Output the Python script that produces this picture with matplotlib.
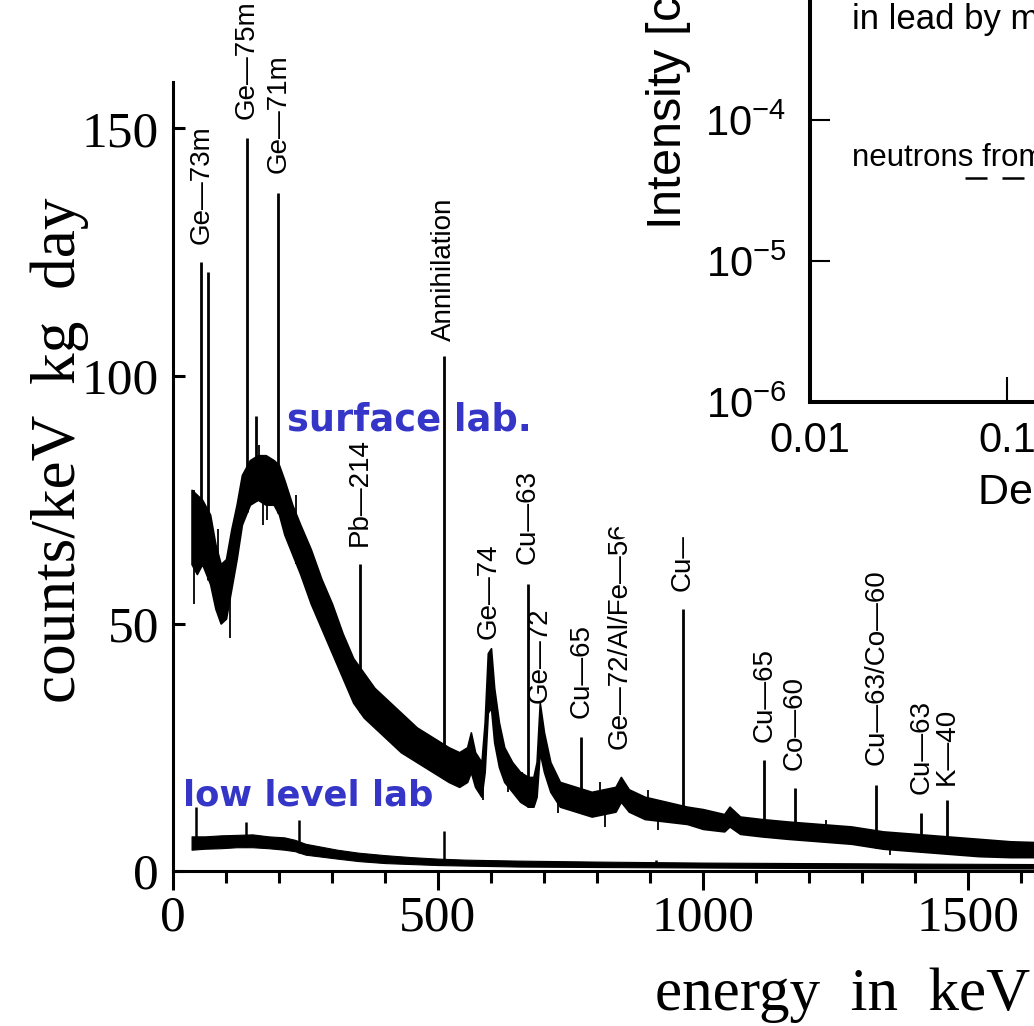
import numpy as np
import matplotlib
matplotlib.use("Agg")
from matplotlib import pyplot as plt
from matplotlib.patches import Rectangle
from matplotlib.ticker import NullLocator, MultipleLocator

# surface lab spectrum: continuum band (keV, counts/keV kg day)
surf_e = [35, 45, 55, 70, 80, 90, 100, 110, 120, 130, 145, 160, 175, 190, 200, 210,
          225, 240, 260, 280, 300, 320, 340, 360, 380, 400, 430, 460, 490, 505, 520,
          540, 555, 562, 570, 582, 588, 594, 600, 606, 615, 625, 640, 655, 670, 680,
          686, 692, 700, 712, 730, 760, 790, 835, 845, 860, 890, 930, 970, 1000,
          1040, 1050, 1070, 1110, 1160, 1220, 1280, 1340, 1400, 1460, 1520, 1580, 1640]
surf_lo = [62, 60, 62, 58, 53, 50, 51, 57, 63, 70, 74, 75, 74, 74, 72, 68,
           64, 60, 54, 49, 44, 39, 34, 31, 29, 27, 24, 22, 20, 19, 18,
           17, 18, 20, 17, 15, 20, 32, 33, 26, 21, 18, 16, 14, 13, 13,
           15, 24, 20, 16, 13, 12, 11, 12, 14, 12, 10.5, 10, 9.5, 8.5,
           8, 9, 7.5, 7, 6.5, 6, 5.5, 4.5, 4, 3.5, 3, 2.8, 2.8]
surf_hi = [77, 76, 75, 72, 66, 62, 63, 69, 74, 80, 83, 84, 84, 83, 82, 79,
           74, 70, 65, 59, 54, 48, 43, 40, 37, 35, 32, 29, 27, 26, 25,
           24, 25, 28, 24, 22, 30, 44, 45, 37, 30, 25, 22, 20, 19, 19,
           22, 34, 28, 22, 18, 17, 16, 17, 19, 16.5, 15, 14, 13, 12.5,
           11.5, 13, 11, 10.5, 10, 9.5, 9, 8, 7.5, 7, 6.5, 6, 5.8]

# thin noise spikes poking out of the surface band: energy, from, to
spike_e = [40, 85, 92, 108, 163, 170, 178, 232, 268, 585, 632, 640, 658, 679, 727,
           806, 815, 896, 915, 1233, 1353]
spike_lo = [54, 61, 53, 47, 78, 70, 71, 62, 55, 14.3, 16, 17, 14.3, 15, 11.7,
            15, 8.9, 12, 8.3, 8, 3.2]
spike_hi = [77, 69, 62, 60, 86, 80, 82, 76, 62, 20, 22, 21, 20, 19, 15.7,
            18, 14, 16.4, 12.5, 10.3, 6]

# sharp lines of the surface spectrum
line_e = [53.4, 66.7, 139.7, 157, 198.4, 351.9, 511, 669.6, 770.6, 962.1,
          1115.5, 1173.2, 1327, 1412, 1460.8]
line_top = [123, 121, 148, 92, 137, 62, 104, 58, 27, 53, 22.4, 16.8, 17.4, 11.7, 14.3]

# line labels: energy, text, height of the marked peak
lab_e = [53.4, 139.7, 198.4, 351.9, 511, 596, 669.6, 691, 770.6, 843, 962.1,
         1115.5, 1173.2, 1327, 1412, 1460.8]
lab_txt = ["Ge\u201473m", "Ge\u201475m", "Ge\u201471m", "Pb\u2014214", "Annihilation",
           "Ge\u201474", "Cu\u201463", "Ge\u201472", "Cu\u201465", "Ge\u201472/Al/Fe\u201456",
           "Cu\u201463", "Cu\u201465", "Co\u201460", "Cu\u201463/Co\u201460", "Cu\u201463",
           "K\u201440"]
lab_top = [123, 148, 137, 62, 104, 45, 58, 33, 27, 21, 53, 22.4, 16.8, 17.4, 11.7, 14.3]
lab_gap = [13, 14, 14, 13, 11, 7, 14, 3, 14, 13, 13, 13, 13, 14, 14, 11]

# low level lab spectrum
low_e = [35, 60, 90, 120, 150, 180, 210, 230, 250, 280, 310, 350, 400, 450, 500,
         550, 650, 800, 1000, 1200, 1400, 1640]
low_lo = [4.3, 4.5, 4.6, 4.8, 4.8, 4.6, 4.3, 4.0, 3.3, 2.9, 2.5, 2.0, 1.6, 1.4, 1.2,
          1.1, 0.9, 0.8, 0.7, 0.6, 0.5, 0.5]
low_hi = [7.0, 7.0, 7.2, 7.3, 7.4, 7.0, 6.8, 6.3, 5.5, 4.9, 4.3, 3.7, 3.2, 2.8, 2.5,
          2.3, 2.1, 1.9, 1.7, 1.6, 1.5, 1.4]
low_line_e = [43, 138, 238.6, 511, 911]
low_line_top = [13, 10, 10.3, 8, 2.3]

# inset (intensity vs depth)
dash_depth = [0.061, 0.2]
dash_int = [3.9e-5, 3.9e-5]

W, H = 1034, 1026
fig = plt.figure(figsize=(W / 100, H / 100), dpi=100)

# main axes: 0 keV at x=173 px, 0.53 px/keV; 0 counts at y=871 px, 4.95 px/count
ax = fig.add_axes([173 / W, (H - 871) / H, (W - 173) / W, 789 / H])
ax.set_xlim(0, (W - 173) / 0.53)
ax.set_ylim(0, 789 / 4.95)

ax.fill_between(surf_e, surf_lo, surf_hi, color="black", lw=1.2)
ax.vlines(spike_e, spike_lo, spike_hi, color="black", lw=1.3)
base = np.interp(line_e, surf_e, surf_lo)
ax.vlines(line_e, base, line_top, color="black", lw=2)

ax.fill_between(low_e, low_lo, low_hi, color="black", lw=0.8)
lbase = np.interp(low_line_e, low_e, low_lo)
ax.vlines(low_line_e, lbase, low_line_top, color="black", lw=1.8)

for e, t, top, gap in zip(lab_e, lab_txt, lab_top, lab_gap):
    ax.annotate(t, xy=(e, top), xytext=(0, gap), textcoords="offset points",
                rotation=90, ha="center", va="bottom", fontsize=20,
                family=["Liberation Sans", "DejaVu Sans"])

ax.spines["top"].set_visible(False)
ax.spines["right"].set_visible(False)
ax.spines["left"].set_linewidth(2.2)
ax.spines["bottom"].set_linewidth(2.2)
ax.set_xticks([0, 500, 1000, 1500])
ax.xaxis.set_minor_locator(MultipleLocator(100))
ax.set_yticks([0, 50, 100, 150])
ax.tick_params(axis="x", which="major", direction="out", length=13.5, width=2.2, pad=4)
ax.tick_params(axis="x", which="minor", direction="out", length=8.5, width=2.2)
ax.tick_params(axis="y", direction="in", length=8.5, width=2.2, pad=10)
for lab in ax.get_xticklabels() + ax.get_yticklabels():
    lab.set_fontfamily(["Liberation Serif", "DejaVu Serif"])
    lab.set_fontsize(37)

serif = ["Liberation Serif", "DejaVu Serif"]
fig.text(60 / W, (H - 450) / H, "counts/keV  kg  day", rotation=90, ha="center",
         va="center", fontsize=45.5, family=serif)
fig.text(655 / W, (H - 995) / H, "energy  in  keV", ha="left", va="center",
         fontsize=44, family=serif)

blue = "#3535c8"
fig.text(287 / W, (H - 420) / H, "surface lab.", color=blue, fontsize=26.5,
         fontweight="bold", va="center", ha="left")
fig.text(183 / W, (H - 795) / H, "low level lab", color=blue, fontsize=25.5,
         fontweight="bold", va="center", ha="left")

# white panel of the inset
fig.add_artist(Rectangle((619 / W, (H - 536) / H), 1, 1, transform=fig.transFigure,
                         color="white", zorder=2))
fig.add_artist(Rectangle((600 / W, (H - 518) / H), 1, 1, transform=fig.transFigure,
                         color="white", zorder=2))

ins = fig.add_axes([810 / W, (H - 402) / H, (W - 810) / W, 402 / H])
ins.set_zorder(3)
ins.patch.set_alpha(0)
ins.set_xscale("log")
ins.set_yscale("log")
ins.set_xlim(0.01, 0.01 * 10 ** ((W - 810) / 197))
ins.set_ylim(1e-6, 10 ** (-6 + 402 / 141))
ins.plot(dash_depth, dash_int, color="black", lw=1.8, dashes=(8.8, 6))
ins.spines["top"].set_visible(False)
ins.spines["right"].set_visible(False)
ins.spines["left"].set_linewidth(2.9)
ins.spines["bottom"].set_linewidth(2.9)
ins.xaxis.set_minor_locator(NullLocator())
ins.yaxis.set_minor_locator(NullLocator())
ins.set_xticks([0.01, 0.1])
ins.set_xticklabels(["0.01", "0.1"])
ins.set_yticks([1e-6, 1e-5, 1e-4])
ins.set_yticklabels([r"$\mathregular{10^{-6}}$", r"$\mathregular{10^{-5}}$",
                     r"$\mathregular{10^{-4}}$"])
ins.tick_params(axis="y", direction="in", length=14.4, width=1.5, pad=17)
ins.tick_params(axis="x", direction="in", length=18, width=1.5, pad=14)
for lab in ins.get_xticklabels() + ins.get_yticklabels():
    lab.set_fontfamily(["Liberation Sans", "DejaVu Sans"])
    lab.set_fontsize(30)

inset_font = ["Liberation Sans", "DejaVu Sans"]
fig.text(665 / W, (H - 230) / H, r"Intensity [cm$^{-2}$ s$^{-1}$]", rotation=90,
         ha="center", va="bottom", fontsize=35, family=inset_font, zorder=4)
fig.text(978 / W, (H - 493) / H, "Depth [km w.e.]", ha="left", va="center",
         fontsize=31, family=inset_font, zorder=4)
fig.text(852 / W, (H - 20) / H, "in lead by muons", ha="left", va="center",
         fontsize=25, family=inset_font, zorder=4)
fig.text(852 / W, (H - 158) / H, "neutrons from fission and (\u03b1,n)", ha="left",
         va="center", fontsize=22.5, family=inset_font, zorder=4)

fig.savefig("out.png", dpi=100)
